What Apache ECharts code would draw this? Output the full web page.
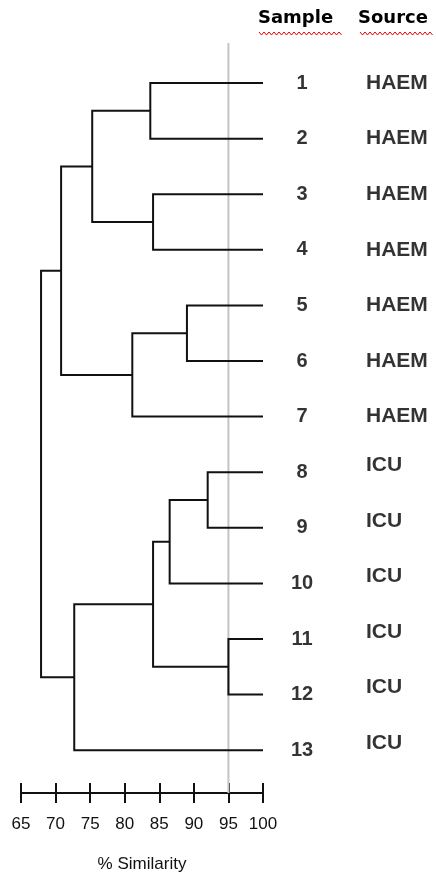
<!DOCTYPE html>
<html>
<head>
<meta charset="utf-8">
<script src="https://cdn.jsdelivr.net/npm/echarts@6/dist/echarts.min.js"></script>
<style>
  html, body { margin: 0; padding: 0; background: #fff; }
  #chart { width: 436px; height: 872px; }
</style>
</head>
<body>
<div id="chart"></div>
<script>
// leaves, top to bottom
const samples = ['1', '2', '3', '4', '5', '6', '7', '8', '9', '10', '11', '12', '13'];
const sources = ['HAEM', 'HAEM', 'HAEM', 'HAEM', 'HAEM', 'HAEM', 'HAEM', 'ICU', 'ICU', 'ICU', 'ICU', 'ICU', 'ICU'];

// merges: leaves are 1..13, merge i creates node 14 + i
const mergeLeft = [1, 3, 14, 5, 17, 16, 8, 20, 11, 21, 23, 19];
const mergeRight = [2, 4, 15, 6, 7, 18, 9, 10, 12, 22, 13, 24];
const mergeHeight = [83.7, 84.1, 75.3, 89.0, 81.1, 70.8, 92.0, 86.5, 95.0, 84.1, 72.7, 67.9];

const cutoff = 95;
const xTicks = [65, 70, 75, 80, 85, 90, 95, 100];

const ink = '#000';
const labelFont = 'Liberation Sans';

// node positions: leaves sit at 100 %, joins at their similarity
const nodeX = {};
const nodeY = {};
samples.forEach((s, i) => {
  nodeX[i + 1] = 100;
  nodeY[i + 1] = i + 1;
});
const branches = [];
mergeHeight.forEach((h, i) => {
  const a = mergeLeft[i];
  const b = mergeRight[i];
  const id = 14 + i;
  nodeX[id] = h;
  nodeY[id] = (nodeY[a] + nodeY[b]) / 2;
  branches.push({
    coords: [[nodeX[a], nodeY[a]], [h, nodeY[a]], [h, nodeY[b]], [nodeX[b], nodeY[b]]],
  });
});

function wavy(x0, x1, y) {
  const pts = [];
  let k = 0;
  for (let x = x0; x <= x1; x += 2.5) {
    pts.push([x, y + (k % 2 ? 3 : 0)]);
    k++;
  }
  return pts;
}

const chart = echarts.init(document.getElementById('chart'));
chart.setOption({
  animation: false,
  backgroundColor: '#fff',
  grid: [
    { left: 21, right: 173, top: 43, bottom: 79, outerBoundsMode: 'none' },
    { left: 21, right: 173, top: 783, bottom: 79, outerBoundsMode: 'none' },
  ],
  xAxis: [
    {
      type: 'value',
      gridIndex: 0,
      min: 65,
      max: 100,
      interval: 5,
      name: '% Similarity',
      nameLocation: 'middle',
      nameGap: 63,
      nameTextStyle: { fontFamily: labelFont, fontSize: 17, color: '#111' },
      axisLine: { show: true, lineStyle: { color: '#111', width: 2 } },
      axisTick: { show: true, inside: false, length: 10, lineStyle: { color: '#111', width: 2 } },
      axisLabel: {
        show: true,
        margin: 23,
        fontFamily: labelFont,
        fontSize: 17,
        color: '#111',
        formatter: (v) => (xTicks.includes(v) ? String(v) : ''),
      },
      splitLine: { show: false },
    },
    {
      type: 'value',
      gridIndex: 1,
      min: 65,
      max: 100,
      interval: 5,
      axisLine: { show: false },
      axisTick: { show: true, inside: true, length: 10, lineStyle: { color: '#111', width: 2 } },
      axisLabel: { show: false },
      splitLine: { show: false },
    },
  ],
  yAxis: [
    { type: 'value', gridIndex: 0, inverse: true, min: 0.28, max: 13.77, show: false },
    { type: 'value', gridIndex: 1, min: 0, max: 1, show: false },
  ],
  series: [
    {
      // cut-off line
      type: 'line',
      xAxisIndex: 0,
      yAxisIndex: 0,
      z: 1,
      silent: true,
      symbol: 'none',
      lineStyle: { color: '#c4c4c4', width: 2 },
      data: [[cutoff, 0.28], [cutoff, 13.77]],
    },
    {
      type: 'lines',
      coordinateSystem: 'cartesian2d',
      xAxisIndex: 0,
      yAxisIndex: 0,
      polyline: true,
      z: 3,
      silent: true,
      lineStyle: { color: '#111', width: 2, opacity: 1 },
      data: branches,
    },
    {
      // sample numbers
      type: 'scatter',
      xAxisIndex: 0,
      yAxisIndex: 0,
      symbolSize: 0,
      silent: true,
      label: {
        show: true,
        position: 'inside',
        offset: [39, 0],
        formatter: (p) => p.name,
        fontFamily: labelFont,
        fontWeight: 'bold',
        fontSize: 20,
        color: ink,
      },
      data: samples.map((s, i) => ({ name: s, value: [100, i + 1] })),
    },
    {
      // sources
      type: 'scatter',
      xAxisIndex: 0,
      yAxisIndex: 0,
      symbolSize: 0,
      silent: true,
      label: {
        show: true,
        position: 'inside',
        align: 'left',
        formatter: (p) => p.name,
        fontFamily: labelFont,
        fontWeight: 'bold',
        fontSize: 21,
        color: ink,
      },
      data: sources.map((s, i) => ({
        name: s,
        value: [100, i + 1],
        label: { offset: [103, s === 'ICU' ? -7 : 0] },
      })),
    },
  ],
  graphic: [
    {
      type: 'text',
      left: 258,
      top: 9,
      style: { text: 'Sample', fontFamily: 'DejaVu Sans', fontWeight: 'bold', fontSize: 18, fill: ink },
    },
    {
      type: 'text',
      left: 358,
      top: 9,
      style: { text: 'Source', fontFamily: 'DejaVu Sans', fontWeight: 'bold', fontSize: 18, fill: ink },
    },
    {
      type: 'polyline',
      shape: { points: wavy(259, 342, 32) },
      style: { stroke: '#e00', lineWidth: 1, fill: null },
    },
    {
      type: 'polyline',
      shape: { points: wavy(360, 433, 32) },
      style: { stroke: '#e00', lineWidth: 1, fill: null },
    },
  ],
});
</script>
</body>
</html>
